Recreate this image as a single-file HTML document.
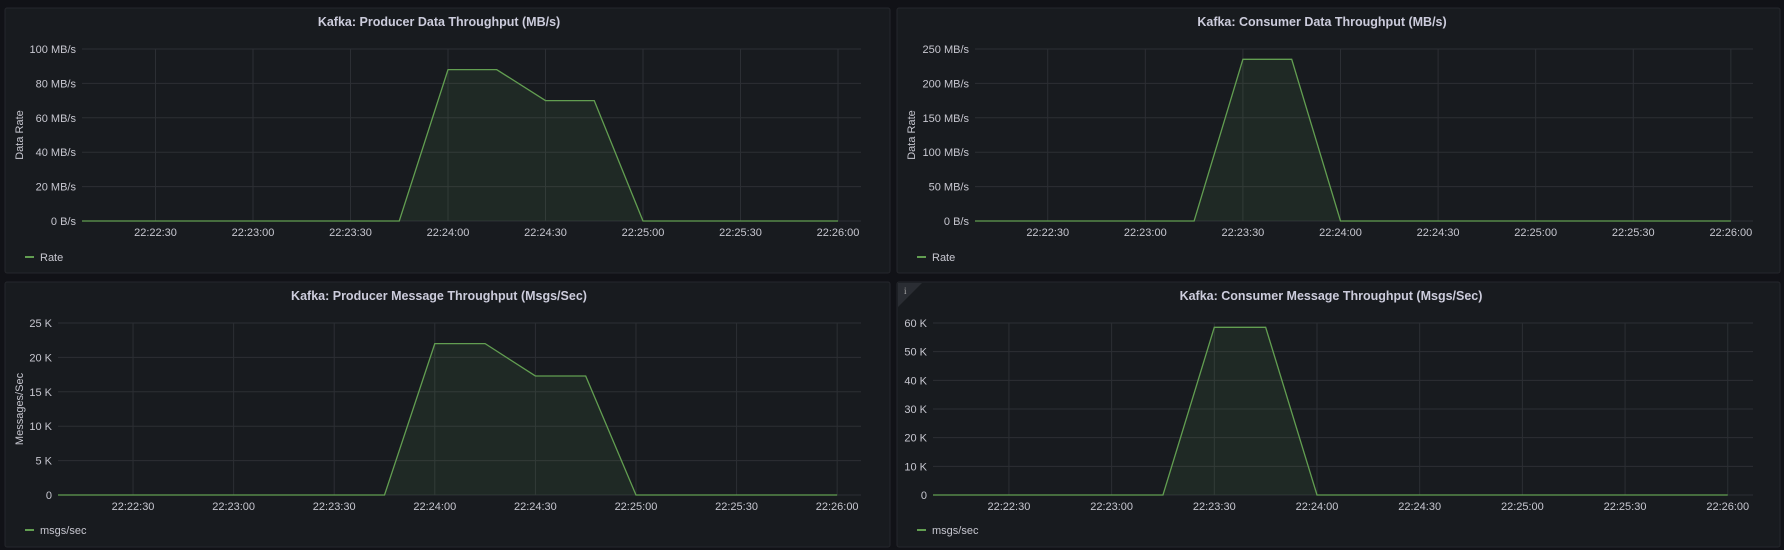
<!DOCTYPE html>
<html><head><meta charset="utf-8"><style>
html,body{margin:0;padding:0;background:#111217;width:1784px;height:550px;overflow:hidden}
svg{display:block;font-family:"Liberation Sans",sans-serif}
</style></head><body>
<svg id="s" width="1784" height="550" xmlns="http://www.w3.org/2000/svg">
<rect x="0" y="0" width="1784" height="550" fill="#111217"/>
</svg>
<script>
// ---- data ----
const p1Times = ["22:22:00","22:23:45","22:24:00","22:24:15","22:24:30","22:24:45","22:25:00","22:26:00"];
const p1Values = [0,0,88,88,70,70,0,0];
const p1YTicks = [0,20,40,60,80,100];
const p1YLabels = ["0 B/s","20 MB/s","40 MB/s","60 MB/s","80 MB/s","100 MB/s"];

const p2Times = ["22:22:00","22:23:15","22:23:30","22:23:45","22:24:00","22:26:00"];
const p2Values = [0,0,235,235,0,0];
const p2YTicks = [0,50,100,150,200,250];
const p2YLabels = ["0 B/s","50 MB/s","100 MB/s","150 MB/s","200 MB/s","250 MB/s"];

const p3Times = ["22:22:00","22:23:45","22:24:00","22:24:15","22:24:30","22:24:45","22:25:00","22:26:00"];
const p3Values = [0,0,22000,22000,17300,17300,0,0];
const p3YTicks = [0,5000,10000,15000,20000,25000];
const p3YLabels = ["0","5 K","10 K","15 K","20 K","25 K"];

const p4Times = ["22:22:00","22:23:15","22:23:30","22:23:45","22:24:00","22:26:00"];
const p4Values = [0,0,58500,58500,0,0];
const p4YTicks = [0,10000,20000,30000,40000,50000,60000];
const p4YLabels = ["0","10 K","20 K","30 K","40 K","50 K","60 K"];

const xTickLabels = ["22:22:30","22:23:00","22:23:30","22:24:00","22:24:30","22:25:00","22:25:30","22:26:00"];

const NS="http://www.w3.org/2000/svg";
const svg=document.getElementById('s');
function mk(tag,attrs,parent){const e=document.createElementNS(NS,tag);for(const k in attrs)e.setAttribute(k,attrs[k]);(parent||svg).appendChild(e);return e;}
function sec(t){const p=t.split(':').map(Number);return p[0]*3600+p[1]*60+p[2];}

function panel(cfg,times,values,yTicks,yLabels){
  const g=mk('g',{});
  
  
  const bg=mk('rect',{x:cfg.px,y:cfg.py,width:cfg.pw,height:cfg.ph,fill:'#181b1f',stroke:'#25272c','stroke-width':1,rx:2},g);
  
  
  const ti=mk('text',{x:cfg.tx,y:cfg.py+18,'text-anchor':'middle','font-size':12.5,'font-weight':'bold',fill:'#ccccdc'},g);
  ti.textContent=cfg.title;
  
  
  const t0=sec("22:24:00");
  const xs=t=>cfg.x0+(sec(t)-t0)*cfg.pps;
  const ymax=yTicks[yTicks.length-1];
  const ys=v=>cfg.bottom-(v/ymax)*(cfg.bottom-cfg.top);
  // grid y
  yTicks.forEach((v,i)=>{
    const l=mk('line',{x1:cfg.left,x2:cfg.right,y1:ys(v),y2:ys(v),stroke:'#2c2f34','stroke-width':1},g);
    
    
    const tx=mk('text',{x:cfg.left-6,y:ys(v)+4,'text-anchor':'end','font-size':11,fill:'#c7c7d0'},g);
    tx.textContent=yLabels[i];
    
    
  });
  xTickLabels.forEach(t=>{
    const x=xs(t);
    const l=mk('line',{x1:x,x2:x,y1:cfg.top,y2:cfg.bottom,stroke:'#2c2f34','stroke-width':1},g);
    
    
    const tx=mk('text',{x:x,y:cfg.bottom+15,'text-anchor':'middle','font-size':11,fill:'#c7c7d0'},g);
    tx.textContent=t;
    
    
  });
  const pts=times.map((t,i)=>[Math.max(cfg.left,xs(t)),ys(values[i])]);
  const area=mk('path',{d:'M'+pts[0][0]+','+cfg.bottom+' '+pts.map(p=>'L'+p[0]+','+p[1]).join(' ')+' L'+pts[pts.length-1][0]+','+cfg.bottom+'Z',fill:'rgba(115,191,105,0.09)'},g);
  
  
  const line=mk('path',{d:'M'+pts.map(p=>p[0]+','+p[1]).join(' L'),fill:'none',stroke:'#629e51','stroke-width':1.3},g);
  
  
  if(cfg.ytitle){
    const yt=mk('text',{x:0,y:0,transform:'translate('+(cfg.px+18)+','+((cfg.top+cfg.bottom)/2)+') rotate(-90)','text-anchor':'middle','font-size':11,fill:'#c7c7d0'},g);
    yt.textContent=cfg.ytitle;
    
    
  }
  const lg=mk('g',{},g);
  
  
  mk('line',{x1:cfg.px+20,x2:cfg.px+29,y1:cfg.ly-4,y2:cfg.ly-4,stroke:'#629e51','stroke-width':2},lg);
  const lt=mk('text',{x:cfg.px+35,y:cfg.ly,'font-size':11,fill:'#c7c7d0'},lg);
  lt.textContent=cfg.legend;
  if(cfg.info){
    const ic=mk('path',{d:`M${cfg.px+1},${cfg.py+1} h24 l-24,24 z`,fill:'#2a2d33'},g);
    
    
    const it=mk('text',{x:cfg.px+7,y:cfg.py+12,'font-size':9,fill:'#aaa','font-family':'Liberation Serif'},g);
    it.textContent='i';
    
    
  }
}
panel({name:'producer-data-panel',title:'Kafka: Producer Data Throughput (MB/s)',px:5,py:8,pw:885,ph:265,tx:439,left:82,right:861,top:49,bottom:221,x0:448,pps:3.25,ytitle:'Data Rate',legend:'Rate',ly:261},p1Times,p1Values,p1YTicks,p1YLabels);
panel({name:'consumer-data-panel',title:'Kafka: Consumer Data Throughput (MB/s)',px:897,py:8,pw:883,ph:265,tx:1322,left:975,right:1753,top:49,bottom:221,x0:1340.5,pps:3.253,ytitle:'Data Rate',legend:'Rate',ly:261},p2Times,p2Values,p2YTicks,p2YLabels);
panel({name:'producer-message-panel',title:'Kafka: Producer Message Throughput (Msgs/Sec)',px:5,py:282,pw:885,ph:265,tx:439,left:58,right:861,top:323,bottom:495,x0:434.8,pps:3.353,ytitle:'Messages/Sec',legend:'msgs/sec',ly:534},p3Times,p3Values,p3YTicks,p3YLabels);
panel({name:'consumer-message-panel',title:'Kafka: Consumer Message Throughput (Msgs/Sec)',px:897,py:282,pw:883,ph:265,tx:1331,left:933,right:1753,top:323,bottom:495,x0:1317,pps:3.423,legend:'msgs/sec',ly:534,info:true},p4Times,p4Values,p4YTicks,p4YLabels);
</script>
</body></html>
